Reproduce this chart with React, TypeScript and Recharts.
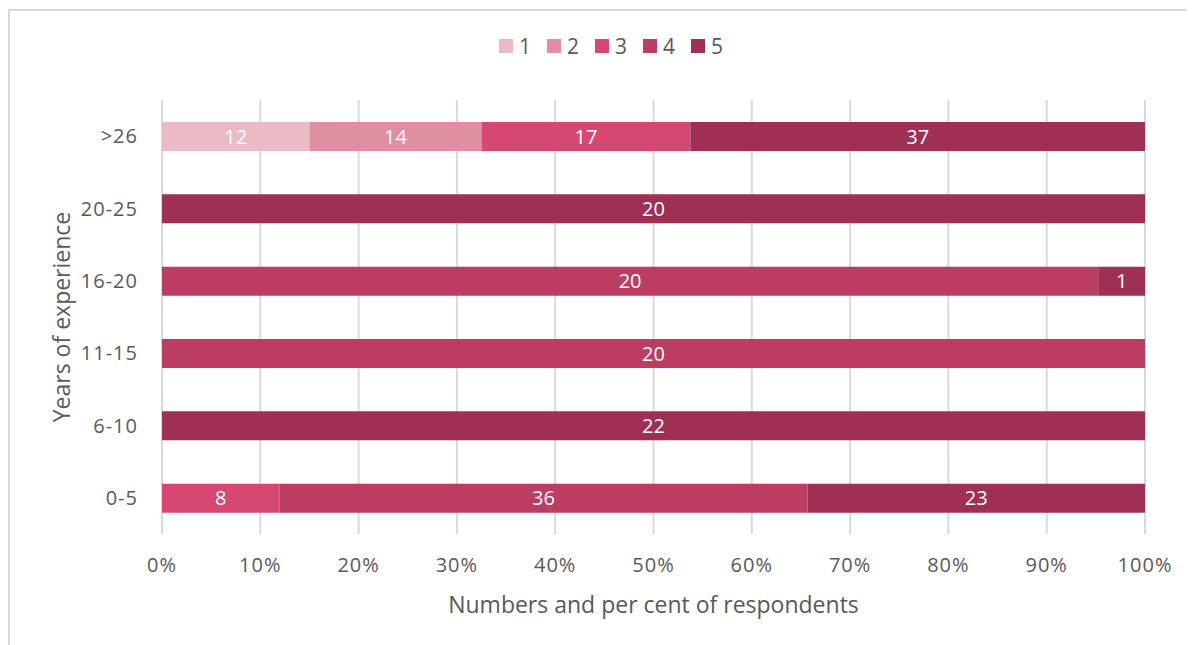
import React from "react";
import { BarChart, Bar, XAxis, YAxis, CartesianGrid, Legend, LabelList } from "recharts";

const categories = [">26", "20-25", "16-20", "11-15", "6-10", "0-5"];
const series1 = [12, 0, 0, 0, 0, 0];
const series2 = [14, 0, 0, 0, 0, 0];
const series3 = [17, 0, 0, 0, 0, 8];
const series4 = [0, 0, 20, 20, 0, 36];
const series5 = [37, 20, 1, 0, 22, 23];
const seriesNames = ["1", "2", "3", "4", "5"];
const seriesColors = ["#EBBAC5", "#E08FA2", "#D64872", "#BC3D62", "#A03053"];
const xTicks = [0, 0.1, 0.2, 0.3, 0.4, 0.5, 0.6, 0.7, 0.8, 0.9, 1];
const xTickLabels = ["0%", "10%", "20%", "30%", "40%", "50%", "60%", "70%", "80%", "90%", "100%"];
const xTitle = "Numbers and per cent of respondents";
const yTitle = "Years of experience";

const allSeries = [series1, series2, series3, series4, series5];
const data = categories.map((c, i) => {
  const row: Record<string, any> = { cat: c };
  allSeries.forEach((s, k) => {
    row["s" + (k + 1)] = s[i];
  });
  return row;
});

const FONT = "'Open Sans', sans-serif";
const TXT = "#595959";

const LegendContent = () => (
  <div
    style={{
      display: "flex",
      justifyContent: "center",
      alignItems: "center",
      fontFamily: FONT,
      fontSize: 21,
      color: TXT,
      paddingLeft: 28,
    }}
  >
    {seriesNames.map((n, i) => (
      <div key={n} style={{ display: "flex", alignItems: "center", marginRight: i < 4 ? 16 : 0 }}>
        <span style={{ width: 14, height: 14, background: seriesColors[i], display: "inline-block", marginRight: 6 }} />
        <span>{n}</span>
      </div>
    ))}
  </div>
);

export default function App() {
  return (
    <div style={{ position: "relative", width: 1178, height: 640 }}>
      <div
        style={{
          position: "absolute",
          left: 0,
          top: 1,
          width: 1176,
          height: 660,
          border: "2px solid #D9D9D9",
          boxSizing: "content-box",
        }}
      />
      <div style={{ position: "absolute", left: -8, top: -8 }}>
        <BarChart
          width={1194}
          height={645}
          data={data}
          layout="vertical"
          stackOffset="expand"
          margin={{ top: 100, right: 49, left: 0, bottom: 0 }}
          barSize={29}
        >
          <CartesianGrid horizontal={false} stroke="#D9D9D9" strokeWidth={2} />
          <XAxis
            type="number"
            domain={[0, 1]}
            ticks={xTicks}
            tickFormatter={(v: number) => xTickLabels[xTicks.indexOf(v)] ?? ""}
            axisLine={false}
            tickLine={false}
            tickSize={0}
            tickMargin={24}
            height={111}
            interval={0}
            tick={{ fill: TXT, fontSize: 20, fontFamily: FONT, letterSpacing: 1 }}
            label={{
              content: (props: any) => {
                const vb = props.viewBox;
                return (
                  <text
                    x={vb.x + vb.width / 2}
                    y={vb.y + 79}
                    textAnchor="middle"
                    fill={TXT}
                    fontSize={23}
                    fontFamily={FONT}
                  >
                    {xTitle}
                  </text>
                );
              },
            }}
          />
          <YAxis
            type="category"
            dataKey="cat"
            width={162}
            axisLine={false}
            tickLine={false}
            tickSize={0}
            tickMargin={24}
            interval={0}
            tick={{ fill: TXT, fontSize: 20, fontFamily: FONT, letterSpacing: 1 }}
            label={{
              content: (props: any) => {
                const vb = props.viewBox;
                const cx = vb.x + 61;
                const cy = vb.y + vb.height / 2;
                return (
                  <text
                    x={cx}
                    y={cy}
                    textAnchor="middle"
                    dominantBaseline="central"
                    transform={`rotate(-90 ${cx} ${cy})`}
                    fill={TXT}
                    fontSize={23}
                    fontFamily={FONT}
                  >
                    {yTitle}
                  </text>
                );
              },
            }}
          />
          <Legend
            layout="horizontal"
            verticalAlign="middle"
            align="center"
            content={<LegendContent />}
            wrapperStyle={{ top: 32, left: 0, width: 1194 }}
          />
          {seriesNames.map((n, i) => (
            <Bar
              key={n}
              dataKey={"s" + (i + 1)}
              name={n}
              stackId="a"
              fill={seriesColors[i]}
              isAnimationActive={false}
            >
              <LabelList
                dataKey={"s" + (i + 1)}
                position="center"
                fill="#FFFFFF"
                fontSize={20}
                fontFamily={FONT}
                formatter={(v: any) => (v ? String(v) : "")}
              />
            </Bar>
          ))}
        </BarChart>
      </div>
    </div>
  );
}
